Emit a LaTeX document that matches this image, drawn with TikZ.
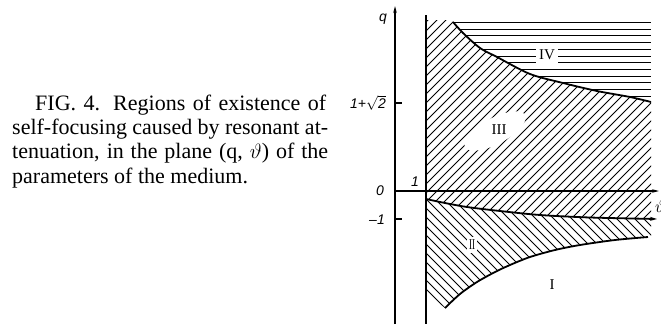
\documentclass[tikz,border=0pt]{standalone}
\usepackage{fontspec}
\setmainfont{Liberation Serif}
\newfontfamily\lblfont{Liberation Sans}
\usetikzlibrary{arrows.meta}
\begin{document}
\begin{tikzpicture}[x=1pt,y=-1pt,
  axis/.style={line width=1.1pt},
  bound/.style={line width=1.8pt},
  hatch/.style={line width=0.95pt},
  lbl/.style={font=\lblfont\itshape\fontsize{14}{14}\selectfont, inner sep=0pt},
  roman/.style={font=\fontsize{15}{15}\selectfont, fill=white, inner sep=3pt},
  capline/.style={anchor=base west, inner sep=0pt, font=\fontsize{22}{24}\selectfont}]
\useasboundingbox (0,0) rectangle (661,324);
% caption
\node[capline] (cap1) at (35,110) {\makebox[291pt][s]{FIG. 4. Regions of existence of}};
\node[capline] (cap2) at (12,134.3) {\makebox[316pt][s]{self-focusing caused by resonant at-}};
\node[capline] (cap3) at (12,158.6) {\makebox[316pt][s]{tenuation, in the plane (q, $\vartheta$) of the}};
\node[capline] (cap4) at (12,183) {parameters of the medium.};
% hatch region III
\begin{scope}
\clip (426,20) -- (453,20) -- plot[smooth] coordinates {(453,22) (463,33) (480,48) (497,57) (530,74) (563,83) (597,91) (630,97) (651,102)} -- (651,219) -- plot[smooth] coordinates {(655,219) (590,217.5) (540,215) (500,211) (467,207) (445,203) (426,199)} -- cycle;
\foreach \k in {430,439,...,890} \draw[hatch] (\k-330,330) -- (\k,0);
\end{scope}
% hatch region II
\begin{scope}
\clip (426,199) -- plot[smooth] coordinates {(426,199) (445,203) (467,207) (500,211) (540,215) (590,217.5) (651,219)} -- (651,237) -- plot[smooth] coordinates {(648,237) (615,240) (580,245) (555,250) (530,257) (510,265) (495,272) (477,282) (460,294) (445,308)} -- (426,292) -- cycle;
\foreach \k in {110,119,...,470} \draw[hatch] (\k,0) -- (\k+330,330);
\end{scope}
% hatch region IV
\begin{scope}
\clip (453,20) -- (651,20) -- (651,102) -- plot[smooth] coordinates {(651,102) (630,97) (597,91) (563,83) (530,74) (497,57) (480,48) (463,33) (453,22)} -- cycle;
\foreach \y in {22.5,29.2,...,106} \draw[hatch] (453,\y) -- (651,\y);
\end{scope}
% white patches round the labels
\fill[white, rotate around={28:(495,131)}] (495,131) ellipse (34pt and 13pt);
% region labels
\node[roman] (rIV) at (547,55) {IV};
\node[roman, fill=none] (rIII) at (499,130) {III};
\node[roman, inner xsep=2pt] (rII) at (472,245) {\scalebox{0.6}[1]{II}};
\node[roman, fill=none] (rI) at (552,285) {I};
% boundary curves
\draw[bound] plot[smooth] coordinates {(453,22) (463,33) (480,48) (497,57) (530,74) (563,83) (597,91) (630,97) (651,102)};
\draw[bound,-{Stealth[length=7pt,width=4pt]}] plot[smooth] coordinates {(426,199) (445,203) (467,207) (500,211) (540,215) (590,217.5) (657,219)};
\draw[bound] plot[smooth] coordinates {(445,308) (460,294) (477,282) (495,272) (510,265) (530,257) (555,250) (580,245) (615,240) (648,237)};
% axes
\coordinate (qbot) at (395,324);
\coordinate (qtop) at (395,6);
\coordinate (tleft) at (395,191);
\coordinate (tright) at (659,191);
\coordinate (vtop) at (426,15);
\coordinate (vbot) at (426,324);
\draw[axis,-{Stealth[length=7pt,width=3.5pt]}] (qbot) -- (qtop);
\draw[axis,-{Stealth[length=7pt,width=3.5pt]}] (tleft) -- (tright);
\draw[line width=1.5pt] (vtop) -- (vbot);
\coordinate (t1a) at (395,103); \coordinate (t1b) at (402,103);
\coordinate (t2a) at (395,219); \coordinate (t2b) at (402,219);
\draw[axis] (t1a) -- (t1b);
\draw[axis] (t2a) -- (t2b);
% axis labels
\node[lbl] (lq) at (383,19) {q};
\node[lbl] (lsq) at (368,103) {1+$\sqrt{\textit{2}}$};
\node[lbl] (l0) at (380,191) {0};
\node[lbl] (lm1) at (377,220) {\textendash1};
\node[lbl] (l1) at (415,182) {1};
\node[lbl, anchor=west, font=\fontsize{18}{18}\selectfont] (lth) at (655,206) {$\vartheta$};
\end{tikzpicture}
\end{document}
